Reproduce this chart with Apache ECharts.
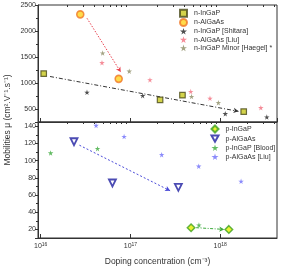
<!DOCTYPE html>
<html>
<head>
<meta charset="utf-8">
<script src="https://cdn.jsdelivr.net/npm/echarts@6/dist/echarts.min.js"></script>
<style>
html, body { margin: 0; padding: 0; background: #fff; }
#mobility { width: 281px; height: 267px; }
</style>
</head>
<body>
<div id="mobility"></div>
<script>
// doping concentration (cm^-3) and mobility (cm2/Vs)
const nInGaPX = [1.08e16, 2.14e17, 3.8e17, 1.83e18]
const nInGaPY = [1180, 675, 765, 450]
const nAlGaAsX = [2.76e16, 7.4e16]
const nAlGaAsY = [2320, 1080]
const shitaraX = [3.28e16, 1.37e17, 1.14e18, 3.31e18]
const shitaraY = [820, 757, 410, 345]
const liuNX = [4.82e16, 1.65e17, 4.7e17, 7.7e17, 2.84e18]
const liuNY = [1390, 1060, 835, 705, 525]
const haegelX = [4.9e16, 9.7e16, 4.8e17, 9.55e17]
const haegelY = [1575, 1227, 738, 622]

const pInGaPX = [4.74e17, 1.25e18]
const pInGaPY = [22, 20]
const pAlGaAsX = [2.35e16, 6.3e16, 3.42e17]
const pAlGaAsY = [122, 74, 69]
const bloodX = [1.29e16, 4.3e16, 5.8e17]
const bloodY = [109, 114, 25]
const liuPX = [4.14e16, 8.5e16, 2.23e17, 5.77e17, 1.71e18]
const liuPY = [141, 128, 107, 93.5, 76]

// trend arrows (start, end)
const nInGaPTrendX = [1.27e16, 1.6e18]
const nInGaPTrendY = [1125, 455]
const nAlGaAsTrendX = [3.28e16, 7.8e16]
const nAlGaAsTrendY = [2245, 1210]
const pAlGaAsTrendX = [2.7e16, 2.77e17]
const pAlGaAsTrendY = [118, 65]
const pInGaPTrendX = [5.4e17, 1.11e18]
const pInGaPTrendY = [22, 20]

// minor ticks of the log axis
const minorTicks = [
  2e16, 3e16, 4e16, 5e16, 6e16, 7e16, 8e16, 9e16,
  2e17, 3e17, 4e17, 5e17, 6e17, 7e17, 8e17, 9e17,
  2e18, 3e18, 4e18
]

const nNames = ['n-InGaP', 'n-AlGaAs', 'n-InGaP [Shitara]', 'n-AlGaAs [Liu]', 'n-InGaP Minor [Haegel] *']
const pNames = ['p-InGaP', 'p-AlGaAs', 'p-InGaP [Blood]', 'p-AlGaAs [Liu]']

const FONT = 'Liberation Sans, Arial, sans-serif'
const STAR = 'path://M50,0 L61,35 L98,35 L68,57 L79,91 L50,70 L21,91 L32,57 L2,35 L39,35 Z'
const TRI_DOWN = 'path://M0,0 L10,0 L5,9 Z'
const X_MIN = 9.33e15
const X_MAX = 4.3e18

const pairs = (xs, ys) => xs.map((x, i) => [x, ys[i]])

const trend = (xs, ys, color, type) => ({
  silent: true,
  symbol: ['none', 'arrow'],
  symbolSize: [4, 5],
  label: { show: false },
  lineStyle: { color: color, width: 1, type: type },
  data: [[{ coord: [xs[0], ys[0]] }, { coord: [xs[1], ys[1]] }]]
})

const xAxisMajor = (grid, labels) => ({
  gridIndex: grid,
  type: 'log',
  logBase: 10,
  min: X_MIN,
  max: X_MAX,
  axisLine: { lineStyle: { color: '#333', width: 1 } },
  axisTick: { inside: true, length: 4, lineStyle: { color: '#333' } },
  splitLine: { show: false },
  axisLabel: {
    show: labels,
    showMinLabel: false,
    showMaxLabel: false,
    margin: 4,
    formatter: function (v) {
      const e = Math.round(Math.log10(v))
      if (Math.abs(Math.log10(v) - e) > 1e-6) return ''
      return '{b|10}{s|' + e + '}'
    },
    rich: {
      b: { fontSize: 7, fontFamily: FONT, color: '#333' },
      s: { fontSize: 5, fontFamily: FONT, color: '#333', padding: [0, 0, 4, 0] }
    }
  }
})

// overlay axis that only carries the 2..9 minor ticks
const xAxisMinor = grid => ({
  gridIndex: grid,
  type: 'log',
  logBase: 10,
  min: X_MIN,
  max: X_MAX,
  axisLine: { show: false },
  axisTick: { inside: true, length: 2, customValues: minorTicks, lineStyle: { color: '#333' } },
  axisLabel: { show: false },
  splitLine: { show: false }
})

const yAxisBase = (grid, min, max, split, step) => ({
  gridIndex: grid,
  type: 'value',
  min: min,
  max: max,
  splitNumber: split,
  axisLine: { show: true, lineStyle: { color: '#333' } },
  axisTick: { length: 3, lineStyle: { color: '#333' } },
  minorTick: { show: true, splitNumber: 2, length: 2, lineStyle: { color: '#333' } },
  splitLine: { show: false },
  axisLabel: {
    fontSize: 7, color: '#333', margin: 2,
    formatter: v => (v % step === 0 && v > min && v <= max ? String(v) : '')
  }
})

const legendBase = (names, left, top, gap) => ({
  data: names,
  orient: 'vertical',
  left: left,
  top: top,
  padding: 0,
  itemWidth: 7,
  itemHeight: 7,
  itemGap: gap,
  textStyle: { fontSize: 7, lineHeight: 8, color: '#333', fontFamily: FONT, padding: [0, 0, 0, 2] }
})

const chart = echarts.init(document.getElementById('mobility'))

const option = {
  animation: false,
  textStyle: { fontFamily: FONT },
  grid: [
    { left: 38, right: 4, top: 5, height: 117, show: true, borderColor: '#333', borderWidth: 1 },
    { left: 38, right: 4, top: 122, height: 116, show: true, borderColor: '#333', borderWidth: 1 }
  ],
  xAxis: [
    xAxisMajor(0, false),
    Object.assign(xAxisMajor(1, true), {
      name: 'Doping concentration (cm⁻³)',
      nameLocation: 'middle',
      nameGap: 19,
      nameTextStyle: { fontSize: 8.5, color: '#333', fontFamily: FONT }
    }),
    xAxisMinor(0),
    xAxisMinor(1)
  ],
  yAxis: [
    yAxisBase(0, 250, 2500, 5, 500),
    yAxisBase(1, 10, 145, 7, 20)
  ],
  legend: [
    legendBase(nNames, 179, 8.7, 0.3),
    legendBase(pNames, 210.5, 124.5, 1)
  ],
  graphic: [
    {
      type: 'text',
      x: 8,
      y: 120,
      rotation: Math.PI / 2,
      style: {
        text: 'Mobilities μ (cm².V⁻¹.s⁻¹)',
        fontSize: 8.5,
        fontFamily: FONT,
        fill: '#333',
        align: 'center',
        verticalAlign: 'middle'
      }
    }
  ],
  series: [
    {
      name: 'n-InGaP', type: 'scatter', xAxisIndex: 0, yAxisIndex: 0,
      symbol: 'rect', symbolSize: 5.5,
      itemStyle: { color: '#c8c81e', borderColor: '#4a4a1a', borderWidth: 1.2 },
      data: pairs(nInGaPX, nInGaPY),
      markLine: trend(nInGaPTrendX, nInGaPTrendY, '#333', [4, 2, 1, 2]),
      z: 5
    },
    {
      name: 'n-AlGaAs', type: 'scatter', xAxisIndex: 0, yAxisIndex: 0,
      symbol: 'circle', symbolSize: 7,
      itemStyle: { color: '#ffd21e', borderColor: '#f07828', borderWidth: 1.6 },
      data: pairs(nAlGaAsX, nAlGaAsY),
      markLine: trend(nAlGaAsTrendX, nAlGaAsTrendY, '#e8404e', [1.5, 1.5]),
      z: 5
    },
    {
      name: 'n-InGaP [Shitara]', type: 'scatter', xAxisIndex: 0, yAxisIndex: 0,
      symbol: STAR, symbolSize: 5.5,
      itemStyle: { color: '#222' },
      data: pairs(shitaraX, shitaraY)
    },
    {
      name: 'n-AlGaAs [Liu]', type: 'scatter', xAxisIndex: 0, yAxisIndex: 0,
      symbol: STAR, symbolSize: 5.5,
      itemStyle: { color: '#f27080' },
      data: pairs(liuNX, liuNY)
    },
    {
      name: 'n-InGaP Minor [Haegel] *', type: 'scatter', xAxisIndex: 0, yAxisIndex: 0,
      symbol: STAR, symbolSize: 5.5,
      itemStyle: { color: '#8c8c64' },
      data: pairs(haegelX, haegelY)
    },
    {
      name: 'p-InGaP', type: 'scatter', xAxisIndex: 1, yAxisIndex: 1,
      symbol: 'diamond', symbolSize: 7.5,
      itemStyle: { color: '#e4f000', borderColor: '#3ca01e', borderWidth: 1.5 },
      data: pairs(pInGaPX, pInGaPY),
      markLine: trend(pInGaPTrendX, pInGaPTrendY, '#3caa3c', [3, 1.5, 1, 1.5]),
      z: 5
    },
    {
      name: 'p-AlGaAs', type: 'scatter', xAxisIndex: 1, yAxisIndex: 1,
      symbol: TRI_DOWN, symbolSize: 7,
      itemStyle: { color: '#fff', borderColor: '#1e1ea0', borderWidth: 1.8 },
      data: pairs(pAlGaAsX, pAlGaAsY),
      markLine: trend(pAlGaAsTrendX, pAlGaAsTrendY, '#4a4ad8', [2, 2]),
      z: 5
    },
    {
      name: 'p-InGaP [Blood]', type: 'scatter', xAxisIndex: 1, yAxisIndex: 1,
      symbol: STAR, symbolSize: 5.5,
      itemStyle: { color: '#3caa3c' },
      data: pairs(bloodX, bloodY)
    },
    {
      name: 'p-AlGaAs [Liu]', type: 'scatter', xAxisIndex: 1, yAxisIndex: 1,
      symbol: STAR, symbolSize: 5.5,
      itemStyle: { color: '#6e6efa' },
      data: pairs(liuPX, liuPY)
    }
  ]
}

chart.setOption(option)
</script>
</body>
</html>
